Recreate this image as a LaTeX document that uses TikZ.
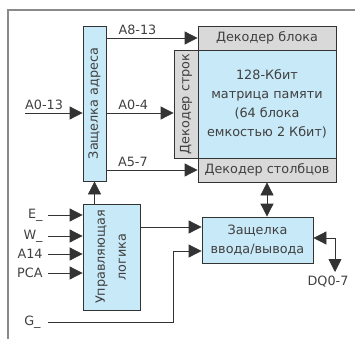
\documentclass[tikz,border=0pt]{standalone}
\usepackage{fontspec}
\setmainfont{DejaVu Sans}
\usetikzlibrary{arrows.meta, positioning, calc}
\definecolor{cline}{HTML}{333333}
\definecolor{cframe}{HTML}{8A8A8A}
\definecolor{cblue}{HTML}{C8E9F8}
\definecolor{cgrey}{HTML}{D9D9D9}
\definecolor{ctext}{HTML}{404040}
\tikzset{
  every picture/.style={line width=0.8pt, font=\fontsize{12.8}{19}\selectfont},
  box/.style={draw=cline, fill=#1, align=center, inner sep=0pt, text=ctext},
  box/.default=cblue,
  arrow/.style={-{Triangle[length=13pt, width=13pt]}, draw=cline},
  biarrow/.style={{Triangle[length=13pt, width=13pt]}-{Triangle[length=13pt, width=13pt]}, draw=cline},
  sig/.style={text=ctext, inner sep=3pt},
}

\begin{document}
\begin{tikzpicture}[x=1pt, y=-1pt]
  \useasboundingbox (0,0) rectangle (355,339);
  \draw[cframe, line width=2pt] (8,339) -- (8,10) -- (355,10);

  % blocks
  \node[box, minimum width=23pt, minimum height=155pt] (addr) at (94.5,103.5) {\rotatebox{90}{Защелка адреса}};
  \node[box, minimum width=57pt, minimum height=106pt] (ctrl) at (111.5,257) {\rotatebox{90}{\begin{tabular}{@{}c@{}}Управляющая\\[2pt]логика\end{tabular}}};
  \node[box=cgrey, minimum width=138pt, minimum height=24pt] (blockdec) at (267,38) {Декодер блока};
  \node[box, minimum width=138pt, minimum height=108pt] (mem) at (267,104) {128-Кбит\\матрица памяти\\(64 блока\\емкостью 2 Кбит)};
  \node[box=cgrey, minimum width=24pt, minimum height=108pt] (rowdec) at (186,104) {\rotatebox{90}{Декодер строк}};
  \node[box=cgrey, minimum width=138pt, minimum height=24pt] (coldec) at (267,170) {Декодер столбцов};
  \node[box, minimum width=111pt, minimum height=46pt] (io) at (257.5,240) {Защелка\\ввода/вывода};

  % address lines
  \coordinate (a013) at (25,113);
  \draw[arrow] (a013) -- (a013 -| addr.west) node[pos=0.33, above, sig] (a013lbl) {A0-13};
  \draw[arrow] (addr.east |- blockdec.west) -- (blockdec.west) node[pos=0.34, above, sig] (a813lbl) {A8-13};
  \draw[arrow] (addr.east |- a013) -- (rowdec.west |- a013) node[pos=0.4, above, sig] (a04lbl) {A0-4};
  \draw[arrow] (addr.east |- coldec.west) -- (coldec.west) node[pos=0.29, above, sig] (a57lbl) {A5-7};

  % control
  \draw[arrow] (ctrl.north -| addr.south) -- (addr.south);
  \foreach \txt/\y [count=\i] in {E\_/215, W\_/236, A14/254, PCA/273}{
    \coordinate (in\i) at (48,\y);
    \draw[arrow] (in\i) -- (in\i -| ctrl.west);
    \node[sig, anchor=east, inner sep=0pt] (in\i lbl) at (43,\y) {\txt};
  }
  \coordinate (ctlout) at ([yshift=30pt]ctrl.east);
  \draw[arrow] (ctlout) -- (ctlout -| io.west);
  \coordinate (g) at (48,322);
  \coordinate (gbend) at (173,251);
  \draw[arrow] (g) -| (gbend) -- (gbend -| io.west);
  \node[sig, anchor=east, inner sep=0pt] (glbl) at (41,322) {G\_};

  % data
  \draw[biarrow] (coldec.south) -- (coldec.south |- io.north);
  \coordinate (dqout) at ([yshift=2pt]io.east);
  \coordinate (dq) at (335,272);
  \draw[biarrow] (dqout) -| (dq);
  \node[sig, below=1pt, xshift=-7pt] (dqlbl) at (dq) {DQ0-7};
\end{tikzpicture}
\end{document}
